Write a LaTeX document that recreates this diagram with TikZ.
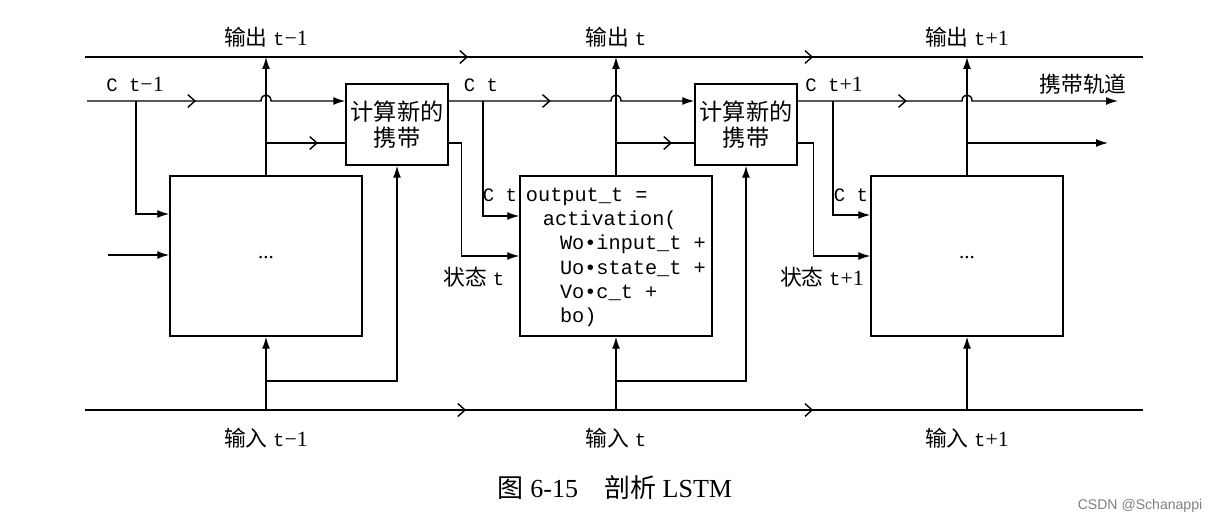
\documentclass[tikz,border=0pt]{standalone}
\usepackage{fontspec}
\setmainfont{Liberation Serif}
\setmonofont{Liberation Mono}
\newfontfamily\cjk{Noto Sans CJK SC}
\newfontfamily\marksans{Liberation Sans}
\usetikzlibrary{arrows.meta,decorations.markings,positioning}

\newcommand{\hopat}[1]{-- (#1-5,101) .. controls (#1-5,93) and (#1+5,93) .. (#1+5,101)}
\newcommand{\tm}[1]{{\ttfamily\fontsize{13.5}{15}\selectfont #1}}

\tikzset{
  cell/.style={draw, minimum width=4.8cm, minimum height=4cm, inner sep=0pt},
  carrybox/.style={draw, minimum width=2.55cm, minimum height=2.025cm, inner sep=0pt,
                   align=center, font=\cjk\fontsize{16.5}{18.4}\selectfont},
  lbl/.style={font=\fontsize{15.5}{18}\selectfont, inner sep=1pt},
  codetext/.style={font=\ttfamily\fontsize{14.4}{17.2}\selectfont, align=left, inner sep=0pt},
  midto/.style={postaction={decorate, decoration={markings,
                mark=at position #1 with {\arrow{Straight Barb[length=1.8mm,width=3.2mm]}}}}},
}

\begin{document}
\begin{tikzpicture}[x=0.025cm, y=-0.025cm, line width=1pt, >={Latex[length=3mm,width=2mm]}]
    \useasboundingbox (0,0) rectangle (1215,523);

    \node[cell]     (cellA)  at (266,256)   {\fontsize{15}{18}\selectfont\raisebox{-0.15cm}{...}};
    \node[cell]     (cellB)  at (616,256)   {};
    \node[cell]     (cellC)  at (967,256)   {\fontsize{15}{18}\selectfont\raisebox{-0.15cm}{...}};
    \node[carrybox] (carry1) at (397,124.5) {计算新的\\携带};
    \node[carrybox] (carry2) at (746,124.5) {计算新的\\携带};
    \node[codetext, anchor=north west] (codeB) at ([xshift=0.15cm, yshift=-0.3cm]cellB.north west)
        {output\_t =\\
         \hspace*{0.84em}activation(\\
         \hspace*{1.68em}Wo•input\_t +\\
         \hspace*{1.68em}Uo•state\_t +\\
         \hspace*{1.68em}Vo•c\_t +\\
         \hspace*{1.68em}bo)};

    \coordinate (outL) at (85,57);
    \coordinate (outR) at (1143,57);
    \coordinate (carL) at (87,101);
    \coordinate (carR) at (1118,101);
    \coordinate (inL)  at (85,410);
    \coordinate (inR)  at (1143,410);
    \coordinate (xin)  at (108,255);
    \coordinate (stR)  at (1108,143);
    \coordinate (cbA)  at (136,101);
    \coordinate (cbB)  at (483,101);
    \coordinate (cbC)  at (833,101);

    % output line and input line
    \draw[midto=9.575cm, midto=18.2cm] (outL) -- (outR);
    \draw[midto=9.525cm, midto=18.2cm] (inL) -- (inR);

    % carry track
    \draw[->, midto=2.725cm] (carL) \hopat{266} -- (carry1.west |- carL);
    \draw[->, midto=2.55cm]  (carry1.east |- carL) \hopat{616} -- (carry2.west |- carL);
    \draw[->, midto=2.725cm] (carry2.east |- carL) \hopat{967} -- (carR);

    \draw[->] (cbA) |- (cellA.west |- 0,214);
    \draw[->] (cbB) |- (cellB.west |- 0,216);
    \draw[->] (cbC) |- (cellC.west |- 0,215);
    \draw[->] (carry1.east |- 0,143) -- ++(13,0) |- (cellB.west);
    \draw[->] (carry2.east |- 0,143) -- ++(16,0) |- (cellC.west);
    \draw[->] (xin) -- (cellA.west |- xin);

    % outputs
    \draw[->] (cellA.north) -- (cellA.north |- outL);
    \draw[->] (cellB.north) -- (cellB.north |- outL);
    \draw[->] (cellC.north) -- (cellC.north |- outL);
    \draw[midto=1.3cm] (cellA.north |- 0,143) -- (carry1.west |- 0,143);
    \draw[midto=1.4cm] (cellB.north |- 0,143) -- (carry2.west |- 0,143);
    \draw[->] (cellC.north |- 0,143) -- (stR);

    % inputs
    \draw[->] (cellA.south |- inL) -- (cellA.south);
    \draw[->] (cellB.south |- inL) -- (cellB.south);
    \draw[->] (cellC.south |- inL) -- (cellC.south);
    \draw[->] (cellA.south |- 0,381) -| (carry1.south);
    \draw[->] (cellB.south |- 0,381) -| (carry2.south);

    % labels
    \node[lbl] (outLa) at (266,37)  {{\cjk 输出} \tm{t}−1};
    \node[lbl] (outLb) at (616,37)  {{\cjk 输出} \tm{t}};
    \node[lbl] (outLc) at (967,37)  {{\cjk 输出} \tm{t}+1};
    \node[lbl] (cLa)   at (135,84)  {\tm{C t}−1};
    \node[lbl] (cLb)   at (481,85)  {\tm{C t}};
    \node[lbl] (cLc)   at (834,84)  {\tm{C t}+1};
    \node[lbl] (track) at (1083,84) {\cjk 携带轨道};
    \node[lbl] (cInB)  at (500,195) {\tm{C t}};
    \node[lbl] (cInC)  at (851,195) {\tm{C t}};
    \node[lbl] (stB)   at (474,277) {{\cjk 状态} \tm{t}};
    \node[lbl] (stC)   at (822,277) {{\cjk 状态} \tm{t}+1};
    \node[lbl] (inLa)  at (266,438) {{\cjk 输入} \tm{t}−1};
    \node[lbl] (inLb)  at (616,438) {{\cjk 输入} \tm{t}};
    \node[lbl] (inLc)  at (967,438) {{\cjk 输入} \tm{t}+1};
    \node[lbl, font=\fontsize{18.5}{22}\selectfont] (caption) at (615,488)
        {{\cjk 图} 6-15\quad{\cjk 剖析} LSTM};
    \node[lbl, font=\marksans\fontsize{10}{12}\selectfont, text=gray] (mark) at (1140,506)
        {CSDN @Schanappi};
\end{tikzpicture}
\end{document}
